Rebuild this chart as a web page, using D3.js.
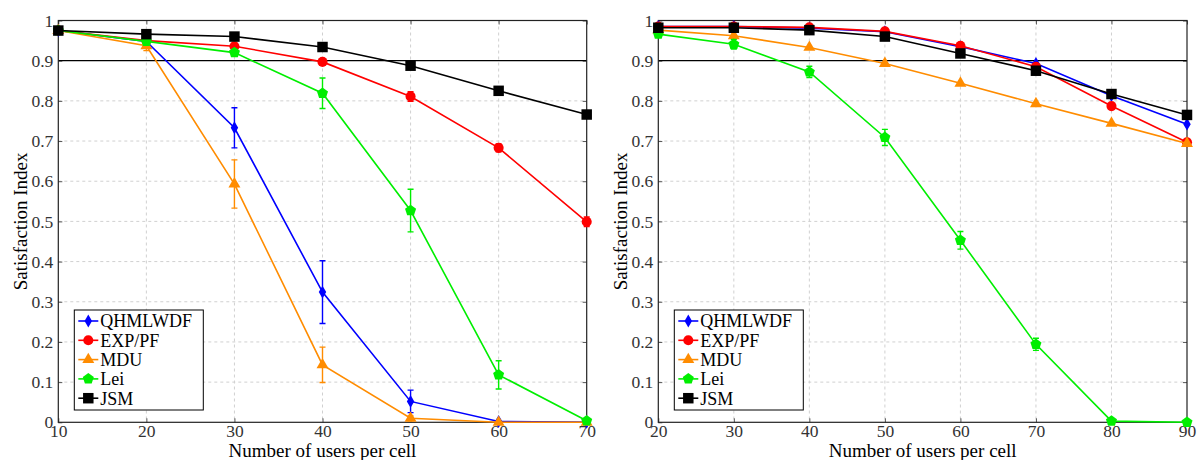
<!DOCTYPE html>
<html>
<head>
<meta charset="utf-8">
<script src="https://cdn.jsdelivr.net/npm/d3@7/dist/d3.min.js"></script>
<style>
  body { margin: 0; background: #fff; }
  svg text { font-family: "Liberation Serif", "Times New Roman", serif; }
</style>
</head>
<body>
<svg id="chart" width="1199" height="460"></svg>
<script>
const seriesNames = ['QHMLWDF', 'EXP/PF', 'MDU', 'Lei', 'JSM']
const yTickValues = [0, 0.1, 0.2, 0.3, 0.4, 0.5, 0.6, 0.7, 0.8, 0.9, 1]
const yTickLabels = ['0', '0.1', '0.2', '0.3', '0.4', '0.5', '0.6', '0.7', '0.8', '0.9', '1']

// left panel
const leftUsers = [10, 20, 30, 40, 50, 60, 70]
const leftQhm = [0.975, 0.948, 0.733, 0.324, 0.052, 0.002, 0.0]
const leftQhmErr = [0, 0.005, 0.05, 0.078, 0.028, 0, 0]
const leftExp = [0.975, 0.95, 0.936, 0.897, 0.811, 0.683, 0.499]
const leftExpErr = [0, 0, 0.006, 0.006, 0.012, 0.01, 0.012]
const leftMdu = [0.975, 0.937, 0.593, 0.143, 0.01, 0.0, 0.0]
const leftMduErr = [0, 0.012, 0.06, 0.044, 0.006, 0, 0]
const leftLei = [0.975, 0.948, 0.92, 0.819, 0.527, 0.118, 0.004]
const leftLeiErr = [0, 0.005, 0.008, 0.038, 0.053, 0.035, 0]
const leftJsm = [0.975, 0.966, 0.96, 0.934, 0.8875, 0.825, 0.766]
const leftJsmErr = [0, 0, 0, 0, 0, 0, 0]

// right panel
const rightUsers = [20, 30, 40, 50, 60, 70, 80, 90]
const rightQhm = [0.985, 0.985, 0.981, 0.972, 0.935, 0.893, 0.813, 0.742]
const rightQhmErr = [0, 0, 0, 0, 0, 0, 0, 0]
const rightExp = [0.985, 0.985, 0.983, 0.973, 0.937, 0.885, 0.787, 0.697]
const rightExpErr = [0, 0, 0, 0, 0, 0, 0, 0]
const rightMdu = [0.976, 0.962, 0.933, 0.893, 0.844, 0.793, 0.744, 0.694]
const rightMduErr = [0, 0, 0, 0, 0, 0, 0, 0]
const rightLei = [0.966, 0.941, 0.872, 0.709, 0.453, 0.194, 0.003, 0.0]
const rightLeiErr = [0.004, 0.012, 0.014, 0.02, 0.022, 0.015, 0, 0]
const rightJsm = [0.982, 0.982, 0.976, 0.96, 0.918, 0.875, 0.817, 0.765]
const rightJsmErr = [0, 0, 0, 0, 0, 0, 0, 0]

const threshold = 0.9

const colors = ['#0000ff', '#ff0000', '#ff8c00', '#00ee00', '#000000']

const pentagon = {
  draw(ctx, size) {
    const r = Math.sqrt(size / 2.378)
    for (let i = 0; i < 5; i++) {
      const a = -Math.PI / 2 + i * 2 * Math.PI / 5
      const px = r * Math.cos(a), py = r * Math.sin(a)
      if (i === 0) ctx.moveTo(px, py)
      else ctx.lineTo(px, py)
    }
    ctx.closePath()
  }
}
const symbols = [
  d3.symbol(d3.symbolDiamond, 48),
  d3.symbol(d3.symbolCircle, 80),
  d3.symbol(d3.symbolTriangle, 62),
  d3.symbol(pentagon, 80),
  d3.symbol(d3.symbolSquare, 110)
]

const svg = d3.select('#chart')

function panel(left, right, users, values, errs) {
  const top = 20.5, bottom = 422.3
  const x = d3.scaleLinear().domain(d3.extent(users)).range([left, right])
  const y = d3.scaleLinear().domain([0, 1]).range([bottom, top])
  const g = svg.append('g')

  // grid
  g.selectAll('.gx').data(users.slice(1, -1)).join('line')
    .attr('x1', d => x(d)).attr('x2', d => x(d))
    .attr('y1', top).attr('y2', bottom)
    .attr('stroke', '#d0d0d0').attr('stroke-dasharray', '3,3')
  g.selectAll('.gy').data(yTickValues.slice(1, -1).filter(d => d !== threshold)).join('line')
    .attr('x1', left).attr('x2', right)
    .attr('y1', d => y(d)).attr('y2', d => y(d))
    .attr('stroke', '#d0d0d0').attr('stroke-dasharray', '3,3')

  // axes with inner ticks
  const axisStyle = a => {
    a.attr('font-size', 17.5)
    a.select('.domain').remove()
    a.selectAll('.tick line').attr('stroke', '#555')
    a.selectAll('.tick text').attr('fill', '#333')
  }
  g.append('g').attr('transform', `translate(0,${bottom})`)
    .call(d3.axisBottom(x).tickValues(users).tickFormat(d3.format('d')).tickSizeInner(-4).tickPadding(2))
    .call(axisStyle)
  g.append('g').attr('transform', `translate(0,${top})`)
    .call(d3.axisTop(x).tickValues(users).tickFormat('').tickSizeInner(-4))
    .call(axisStyle)
  g.append('g').attr('transform', `translate(${left},0)`)
    .call(d3.axisLeft(y).tickValues(yTickValues).tickFormat((d, i) => yTickLabels[i]).tickSizeInner(-4).tickPadding(5))
    .call(axisStyle)
  g.append('g').attr('transform', `translate(${right},0)`)
    .call(d3.axisRight(y).tickValues(yTickValues).tickFormat('').tickSizeInner(-4))
    .call(axisStyle)

  // 0.9 reference line
  g.append('line')
    .attr('x1', left).attr('x2', right)
    .attr('y1', y(threshold)).attr('y2', y(threshold))
    .attr('stroke', '#000').attr('stroke-width', 1.2)

  // frame
  g.append('rect')
    .attr('x', left).attr('y', top)
    .attr('width', right - left).attr('height', bottom - top)
    .attr('fill', 'none').attr('stroke', '#222').attr('stroke-width', 1.2)

  const line = d3.line().x(d => x(d[0])).y(d => y(d[1]))
  values.forEach((vals, s) => {
    const pts = users.map((u, i) => [u, vals[i], errs[s][i]])
    const sg = g.append('g')
    sg.append('path').datum(pts).attr('d', line)
      .attr('fill', 'none').attr('stroke', colors[s]).attr('stroke-width', 1.6)
    const eb = pts.filter(p => p[2] > 0)
    sg.selectAll('.eb').data(eb).join('path')
      .attr('d', p => {
        const cx = x(p[0]), y1 = y(p[1] + p[2]), y2 = y(p[1] - p[2])
        return `M${cx - 3},${y1}H${cx + 3}M${cx},${y1}V${y2}M${cx - 3},${y2}H${cx + 3}`
      })
      .attr('fill', 'none').attr('stroke', colors[s]).attr('stroke-width', 1.4)
    sg.selectAll('.mk').data(pts).join('path')
      .attr('d', symbols[s])
      .attr('transform', p => `translate(${x(p[0])},${y(p[1])})`)
      .attr('fill', colors[s])
  })

  // legend
  const lx = left + 16, ly = 310
  const lg = g.append('g')
  lg.append('rect').attr('x', lx).attr('y', ly).attr('width', 129).attr('height', 100)
    .attr('fill', '#fff').attr('stroke', '#000').attr('stroke-width', 1)
  seriesNames.forEach((name, s) => {
    const cy = ly + 11 + s * 19.3
    lg.append('line').attr('x1', lx + 4).attr('x2', lx + 24)
      .attr('y1', cy).attr('y2', cy)
      .attr('stroke', colors[s]).attr('stroke-width', 1.6)
    lg.append('path').attr('d', symbols[s])
      .attr('transform', `translate(${lx + 14},${cy})`).attr('fill', colors[s])
    lg.append('text').attr('x', lx + 26).attr('y', cy).attr('dy', '0.35em')
      .attr('font-size', 18).attr('fill', '#000').text(name)
  })

  // axis labels
  g.append('text')
    .attr('x', (left + right) / 2).attr('y', 456.5)
    .attr('text-anchor', 'middle').attr('font-size', 19)
    .text('Number of users per cell')
  g.append('text')
    .attr('transform', `translate(${left - 31.5},${(top + bottom) / 2}) rotate(-90)`)
    .attr('text-anchor', 'middle').attr('font-size', 19)
    .text('Satisfaction Index')
}

panel(58.3, 586.7, leftUsers,
  [leftQhm, leftExp, leftMdu, leftLei, leftJsm],
  [leftQhmErr, leftExpErr, leftMduErr, leftLeiErr, leftJsmErr])
panel(658.3, 1187, rightUsers,
  [rightQhm, rightExp, rightMdu, rightLei, rightJsm],
  [rightQhmErr, rightExpErr, rightMduErr, rightLeiErr, rightJsmErr])
</script>
</body>
</html>
